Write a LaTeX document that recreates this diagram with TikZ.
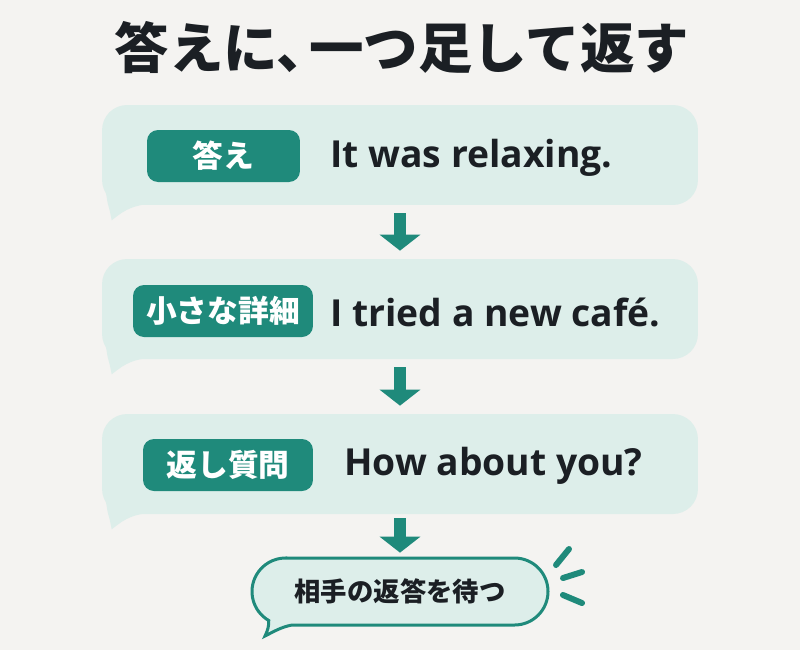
\documentclass[tikz,border=0pt]{standalone}
\usepackage{fontspec}
\setmainfont{Open Sans}
\newfontfamily\jpfont{Noto Sans CJK JP}
\usetikzlibrary{arrows.meta, calc, positioning}

\definecolor{bgcol}{HTML}{F4F3F1}
\definecolor{mint}{HTML}{DDEEEA}
\definecolor{teal}{HTML}{1F8A7B}
\definecolor{ink}{HTML}{1B1F24}

\begin{document}
\begin{tikzpicture}[
    x=0.02cm, y=-0.02cm,
    bubble/.style={rectangle, rounded corners=0.5cm, minimum width=11.92cm, minimum height=2cm, fill=mint},
    tag/.style={rectangle, rounded corners=0.22cm, minimum height=1.04cm, fill=teal, text=white,
                font=\jpfont\bfseries\fontsize{17.5}{20}\selectfont},
    phrase/.style={anchor=west, inner sep=0pt, text=ink, font=\bfseries\fontsize{21.2}{25}\selectfont},
    arrow/.style={teal, line width=0.24cm, -{Triangle[width=0.8cm, length=0.32cm]}},
    dash line/.style={teal, line width=0.12cm, line cap=round}
]

\fill[bgcol] (0,0) rectangle (800,650);

\node (title) [text=ink, font=\jpfont\bfseries\fontsize{31}{36}\selectfont] at (402,48) {答えに、\kern-0.4em一つ足して返す};

\node (ans) [bubble] at (400,155) {};
\node (detail) [bubble] at (400,309) {};
\node (ques) [bubble] at (400,464) {};

\foreach \b in {ans,detail,ques}
  \fill[mint] ($(\b.south west)+(3,-20)$) -- ($(\b.south west)+(6,-2)$)
     .. controls ($(\b.south west)+(8,5)$) .. ($(\b.south west)+(10,15)$)
     .. controls ($(\b.south west)+(20,7)$) and ($(\b.south west)+(28,1)$) .. ($(\b.south west)+(44,-1)$)
     -- ($(\b.south west)+(44,-20)$) -- cycle;

\node (tagA) [tag, minimum width=3.06cm] at (223.5,156) {答え};
\node (tagB) [tag, minimum width=3.6cm] at (223,311) {小さな詳細};
\node (tagC) [tag, minimum width=3.4cm] at (228,465) {返し質問};

\node (txtA) [phrase] at (330,158) {It was relaxing.};
\node (txtB) [phrase] at (330,312) {I tried a new café.};
\node (txtC) [phrase] at (344,466) {How about you?};

\node (wait) [minimum width=5.92cm, minimum height=1.34cm, inner sep=0pt] at (400,591.5) {};
\draw[teal, line width=0.06cm, fill=mint] (285.5,558) -- (514.5,558) arc[start angle=-90, end angle=90, radius=33.5]
    -- (292,625) .. controls (281,627) and (273,632) .. (265,636)
    .. controls (268,630) and (269,625) .. (268.75,620.5)
    arc[start angle=120, end angle=270, radius=33.5] -- cycle;
\node (waittext) [text=ink, font=\jpfont\bfseries\fontsize{15}{18}\selectfont] at (wait) {相手の返答を待つ};

\draw [arrow] ([yshift=-0.16cm]ans.south) -- ([yshift=0.16cm]detail.north);
\draw [arrow] ([yshift=-0.16cm]detail.south) -- ([yshift=0.16cm]ques.north);
\draw [arrow] ([yshift=-0.08cm]ques.south) -- ([yshift=0.1cm]wait.north);

\foreach \p/\q in {{(556,565)}/{(569,549)}, {(563,578)}/{(582,572)}, {(563,595)}/{(582,603)}}
  \draw[dash line] \p -- \q;

\end{tikzpicture}
\end{document}
